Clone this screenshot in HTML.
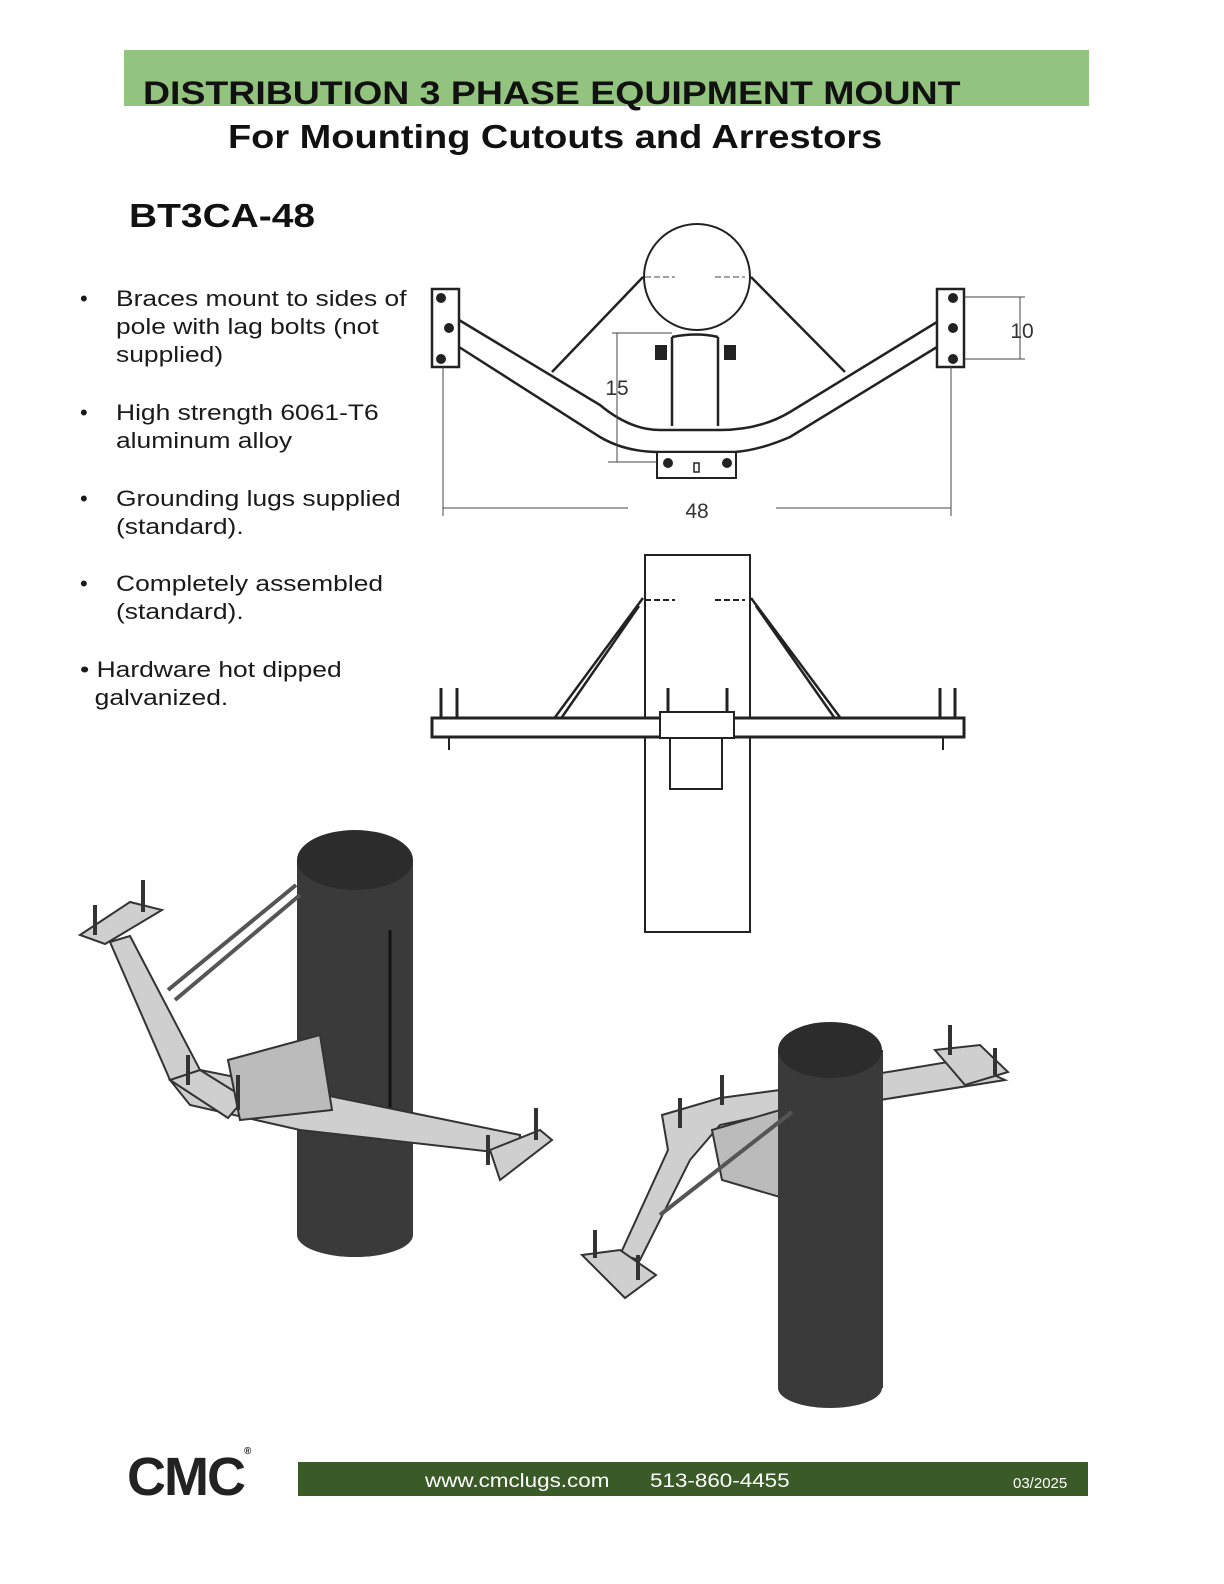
<!DOCTYPE html>
<html><head><meta charset="utf-8"><style>
body{margin:0;background:#fff}
#p{position:relative;width:1224px;height:1584px;overflow:hidden;font-family:"Liberation Sans",sans-serif;color:#1a1a1a}
.a{position:absolute;white-space:nowrap;transform-origin:0 0}
.b{font-size:22px;line-height:28px;transform:scaleX(1.2)}
</style></head><body><div id="p">
<div class="a" style="left:124px;top:50px;width:965px;height:56px;background:#93c47f"></div>
<div class="a" style="left:143px;top:75px;font-size:32px;font-weight:bold;color:#111;transform:scaleX(1.17)">DISTRIBUTION 3 PHASE EQUIPMENT MOUNT</div>
<div class="a" style="left:228px;top:118px;font-size:33px;font-weight:bold;color:#111;transform:scaleX(1.15)">For Mounting Cutouts and Arrestors</div>
<div class="a" style="left:129px;top:197px;font-size:33px;font-weight:bold;color:#111;transform:scaleX(1.18)">BT3CA-48</div>
<div class="a b" style="left:80px;top:285px;transform:none">•</div><div class="a b" style="left:116px;top:285px">Braces mount to sides of<br>pole with lag bolts (not<br>supplied)</div>
<div class="a b" style="left:80px;top:399px;transform:none">•</div><div class="a b" style="left:116px;top:399px">High strength 6061-T6<br>aluminum alloy</div>
<div class="a b" style="left:80px;top:485px;transform:none">•</div><div class="a b" style="left:116px;top:485px">Grounding lugs supplied<br>(standard).</div>
<div class="a b" style="left:80px;top:570px;transform:none">•</div><div class="a b" style="left:116px;top:570px">Completely assembled<br>(standard).</div>
<div class="a b" style="left:80px;top:656px">• Hardware hot dipped<br>&nbsp;&nbsp;galvanized.</div>

<svg class="a" style="left:0;top:0" width="1224" height="1584">
<g fill="none" stroke="#222" stroke-width="2.5">
<circle cx="697" cy="277" r="53" stroke-width="2"/>
<path d="M643 277 L552 372 M751 277 L845 372"/>
<rect x="432" y="289" width="27" height="78" fill="#fff"/>
<rect x="937" y="289" width="27" height="78" fill="#fff"/>
<path d="M459 320 L600 405 Q630 430 660 430 L720 430 Q760 430 790 412 L937 322"/>
<path d="M459 347 L600 437 Q625 452 660 452 L735 452 Q760 450 790 437 L937 347"/>
<path d="M672 337 L672 426 M718 337 L718 426 M672 337 Q697 332 718 337"/>
<rect x="657" y="452" width="79" height="26" fill="#fff" stroke-width="2"/>
<rect x="694" y="463" width="5" height="9" stroke-width="1.5"/>
</g>
<g fill="#222">
<circle cx="441" cy="298" r="5"/><circle cx="449" cy="328" r="5"/><circle cx="441" cy="359" r="5"/>
<circle cx="953" cy="298" r="5"/><circle cx="953" cy="328" r="5"/><circle cx="953" cy="359" r="5"/>
<circle cx="668" cy="463" r="5"/><circle cx="727" cy="463" r="5"/>
<path d="M655 345 h12 v15 h-12z M724 345 h12 v15 h-12z"/>
</g>
<g stroke="#444" stroke-width="1" fill="none">
<path d="M443 367 V516 M951 367 V516 M443 508 H628 M776 508 H951"/>
<path d="M612 333 H672 M617 333 V462 M608 462 H657"/>
<path d="M964 297 H1025 M964 359 H1025 M1020 297 V359"/>
<path d="M645 277 h30 M715 277 h30" stroke-dasharray="6 3"/>
</g>
<text x="697" y="518" font-size="21" text-anchor="middle" fill="#333">48</text>
<text x="617" y="395" font-size="21" text-anchor="middle" fill="#333">15</text>
<text x="1022" y="338" font-size="21" text-anchor="middle" fill="#333">10</text>

<g fill="none" stroke="#222" stroke-width="2">
<rect x="645" y="555" width="105" height="377" fill="#fff"/>
<path d="M643 598 L553 720 M639 606 L560 720 M751 598 L842 720 M756 606 L836 720" stroke-width="2.5"/>
<rect x="432" y="718" width="532" height="19" fill="#fff" stroke-width="3"/>
<path d="M441 688 V718 M457 688 V718 M940 688 V718 M955 688 V718 M668 688 V718 M727 688 V718" stroke-width="3"/>
<path d="M449 737 V750 M943 737 V750"/>
<rect x="670" y="737" width="52" height="52" fill="#fff"/>
<rect x="660" y="712" width="74" height="26" fill="#fff"/>
<path d="M645 600 h30 M715 600 h30" stroke-dasharray="6 3"/>
</g>

<rect x="297" y="860" width="116" height="375" fill="#3a3a3a"/>
<ellipse cx="355" cy="1235" rx="58" ry="22" fill="#3a3a3a"/>
<ellipse cx="355" cy="860" rx="58" ry="30" fill="#2c2c2c"/>
<path d="M390 930 V1110" stroke="#111" stroke-width="3"/>
<g fill="#cfcfcf" stroke="#333" stroke-width="2">
<path d="M80 935 L130 902 L162 910 L105 944 Z"/>
<path d="M110 942 L130 936 L200 1070 L300 1090 L520 1135 L520 1155 L300 1130 L190 1105 L170 1080 Z"/>
<path d="M170 1080 L200 1070 L245 1098 L228 1118 Z"/>
<path d="M490 1150 L540 1130 L552 1140 L500 1180 Z"/>
<path d="M228 1060 L320 1035 L332 1110 L240 1120 Z" fill="#bbb"/>
</g>
<path d="M175 1000 L300 895 M168 990 L296 885" stroke="#555" stroke-width="4"/>
<g stroke="#333" stroke-width="4"><path d="M95 905 V935 M143 880 V912 M188 1055 V1085 M238 1075 V1110 M488 1135 V1165 M536 1108 V1140"/></g>

<g fill="#cfcfcf" stroke="#333" stroke-width="2">
<path d="M870 1075 L960 1060 L1005 1080 L880 1100 Z"/>
<path d="M935 1050 L980 1045 L1008 1072 L965 1085 Z"/>
<path d="M662 1115 L720 1098 L780 1090 L790 1110 L720 1125 L690 1160 L640 1260 L620 1255 L668 1150 Z"/>
<path d="M582 1255 L620 1250 L656 1275 L625 1298 Z"/>
<path d="M712 1130 L780 1110 L790 1200 L722 1180 Z" fill="#bbb"/>
</g>
<rect x="778" y="1050" width="105" height="338" fill="#3a3a3a"/>
<ellipse cx="830" cy="1388" rx="52" ry="20" fill="#3a3a3a"/>
<ellipse cx="830" cy="1050" rx="52" ry="28" fill="#2c2c2c"/>
<path d="M660 1215 L792 1112" stroke="#555" stroke-width="4"/>
<g stroke="#333" stroke-width="4"><path d="M595 1230 V1258 M638 1255 V1280 M722 1075 V1105 M680 1098 V1128 M950 1025 V1055 M995 1048 V1075"/></g>
</svg>

<div class="a" style="left:127px;top:1446px;font-size:54px;font-weight:bold;letter-spacing:-2px;color:#222">CMC<span style="font-size:10px;vertical-align:top">®</span></div>
<div class="a" style="left:298px;top:1462px;width:790px;height:34px;background:#3a5a28"></div>
<div class="a" style="left:425px;top:1471px;font-size:19px;color:#fff;transform:scaleX(1.18)">www.cmclugs.com</div>
<div class="a" style="left:650px;top:1471px;font-size:19px;color:#fff;transform:scaleX(1.18)">513-860-4455</div>
<div class="a" style="left:1013px;top:1475px;font-size:15px;color:#fff">03/2025</div>
</div></body></html>
